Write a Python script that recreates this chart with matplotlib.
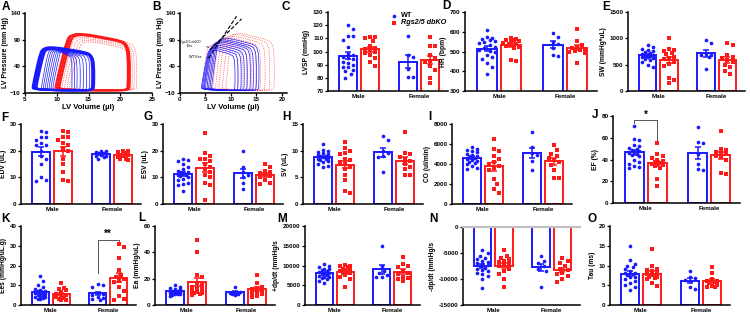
import numpy as np
import matplotlib
matplotlib.use("Agg")
import matplotlib.pyplot as plt
from matplotlib.path import Path
from matplotlib.patches import PathPatch

plt.rcParams['font.family'] = ['Liberation Sans', 'DejaVu Sans']
plt.rcParams['font.weight'] = 'bold'
plt.rcParams['axes.labelweight'] = 'bold'

BLUE = '#1a1aff'
RED = '#ff1a1a'
FW, FH = 750, 315

# ---------------- PV loop parameters (end-systolic volume, end-diastolic volume, peak pressure) ----------------
a_blue_thick_esv = [7.4, 7.6, 7.8, 8.0]
a_blue_thick_edv = [15.6, 15.7, 15.8, 15.9]
a_blue_thick_peak = [74, 76, 75, 73]
a_blue_thin_esv = [8.6, 8.9, 9.2, 9.5, 9.8, 10.1, 10.4]
a_blue_thin_edv = [15.2, 14.7, 14.2, 13.7, 13.2, 12.8, 12.4]
a_blue_thin_peak = [72, 71, 70, 69, 68, 67, 66]
a_red_thick_esv = [11.6, 11.9, 12.2]
a_red_thick_edv = [21.2, 21.4, 21.5]
a_red_thick_peak = [100, 101, 99]
a_red_dot_esv = [12.0, 12.4, 12.8, 13.2, 13.6]
a_red_dot_edv = [22.6, 22.2, 21.9, 21.6, 21.3]
a_red_dot_peak = [98, 95, 92, 89, 86]

b_blue_esv = [7.4, 7.1, 6.8, 6.5, 6.2, 6.0, 5.8, 5.6, 5.4]
b_blue_edv = [15.5, 15.0, 14.4, 13.8, 13.2, 12.6, 12.0, 11.4, 10.8]
b_blue_peak = [93, 90, 88, 86, 83, 80, 77, 74, 71]
b_red_esv = [10.0, 9.3, 8.6, 8.0, 7.4, 6.8, 6.3, 5.8, 5.3]
b_red_edv = [18.5, 17.6, 16.7, 15.8, 14.9, 14.0, 13.1, 12.2, 11.3]
b_red_peak = [102, 100, 97, 94, 91, 88, 85, 82, 79]
espvr_ko_v = [5.6, 11.1]
espvr_ko_p = [55, 134]
espvr_wt_v = [5.9, 12.1]
espvr_wt_p = [71, 129]

# ---------------- bar + scatter data: WT male, KO male, WT female, KO female ----------------
lvsp_wt_m = [120, 117, 112, 112, 109, 103.5, 98, 97, 96, 95, 94, 92, 91, 90, 88, 88, 86, 85, 83, 80]
lvsp_ko_m = [111, 111, 110, 108, 104, 103, 102, 101, 100, 99, 97, 95, 92, 89]
lvsp_wt_f = [112, 97, 96, 87, 81, 81]
lvsp_ko_f = [111, 104, 104, 97, 95, 93, 92, 89, 86, 80, 76]

hr_wt_m = [610, 575, 570, 565, 560, 555, 550, 545, 535, 525, 520, 510, 505, 495, 480, 470, 460, 440, 420, 385]
hr_ko_m = [570, 565, 560, 560, 555, 550, 545, 540, 540, 535, 530, 525, 520, 455, 450]
hr_wt_f = [595, 575, 550, 540, 520, 480, 475]
hr_ko_f = [615, 555, 535, 525, 520, 515, 510, 505, 500, 490, 440]

sw_wt_m = [870, 840, 800, 780, 760, 740, 720, 700, 690, 680, 670, 660, 650, 640, 620, 600, 580, 560, 500, 460]
sw_ko_m = [1000, 790, 780, 760, 720, 700, 650, 620, 600, 560, 520, 480, 250, 200, 150]
sw_wt_f = [970, 920, 700, 690, 680, 650, 420]
sw_ko_f = [910, 880, 680, 650, 620, 590, 560, 500, 450, 380, 330]

edv_wt_m = [27.5, 27, 25, 25, 24, 23, 22, 22, 20, 18, 17, 15, 10, 9, 8.5]
edv_ko_m = [27.5, 27, 25, 25, 24, 23, 22, 21, 20, 17, 15, 12, 9, 8.5]
edv_wt_f = [20, 20, 19.5, 19, 19, 18.5, 18, 18, 17.5, 17]
edv_ko_f = [20, 19.8, 19.5, 19, 18.5, 18.2, 18, 17.5, 17, 16.8, 16.5]

esv_wt_m = [17, 16.5, 16, 15, 14, 13, 12.5, 12, 12, 11.5, 11, 11, 10.5, 10, 9.5, 9, 8, 7.5, 7, 5]
esv_ko_m = [26.5, 19, 18, 17, 17, 16, 15, 14, 13, 12, 11, 10, 8, 7, 1.5]
esv_wt_f = [20, 14, 12, 11, 10, 8, 5.5]
esv_ko_f = [15, 14, 12.5, 12, 11.5, 11, 10.5, 10, 9, 8, 7.5]

sv_wt_m = [11.2, 10.2, 10, 9.8, 9.5, 9.3, 9.2, 9, 9, 8.8, 8.7, 8.5, 8.4, 8.2, 8, 7.8, 7.5, 7.2, 7]
sv_ko_m = [11.7, 10.5, 10, 9.5, 9.3, 8.5, 8.2, 7.8, 7.5, 7, 6.5, 5.5, 4.5, 2.5, 2]
sv_wt_f = [12.7, 12, 10, 9.5, 9, 8.8, 6]
sv_ko_f = [13.5, 9.5, 9.3, 8.8, 8.5, 8, 7.5, 7, 6.5, 5.5, 5.5]

co_wt_m = [5700, 5500, 5400, 5300, 5200, 5000, 4900, 4800, 4700, 4600, 4500, 4400, 4300, 4200, 4100, 4000, 3800, 3600, 3500]
co_ko_m = [6500, 5500, 5300, 4800, 4500, 4200, 4000, 3800, 3600, 3400, 2500, 2000, 1500, 1100]
co_wt_f = [7200, 5700, 5100, 4900, 4300, 3400]
co_ko_f = [5900, 5400, 5000, 4800, 4600, 4400, 4200, 3900, 3400, 2600, 2600]

ef_wt_m = [71, 59, 58, 53, 52, 51, 50, 49, 48, 47, 46, 45, 44, 43, 40, 38, 36, 34, 33, 32]
ef_ko_m = [55, 45, 43, 41, 40, 39, 38, 37, 36, 36, 35, 34, 32, 22, 16]
ef_wt_f = [70, 56, 55, 45, 36, 31, 30]
ef_ko_f = [66, 50, 49, 47, 46, 45, 43, 42, 40, 28, 27]

ees_wt_m = [14.5, 12, 10, 9, 8, 7.5, 7, 7, 6.5, 6, 6, 5.5, 5, 5, 4.5, 4, 4, 3.5, 3, 3]
ees_ko_m = [11, 8.5, 8, 7.5, 6.5, 5.5, 5, 4.5, 4, 3.5, 3, 2.5, 2.5]
ees_wt_f = [10.5, 10, 9, 6, 5.5, 5, 4, 3.5, 3, 2.5]
ees_ko_f = [31, 29.5, 24, 17.5, 15, 14, 13, 12, 11.5, 9, 7, 4.5, 3, 2.5]

ea_wt_m = [15, 14, 13, 12, 12, 11, 11, 10.5, 10, 10, 9.5, 9, 9, 8.5, 8, 8, 7.5, 7]
ea_ko_m = [49.5, 40, 23, 21, 17, 15, 14, 13, 12, 11, 10, 9, 9, 8, 7.5]
ea_wt_f = [14, 10, 9.5, 9, 8.5, 8, 7.5]
ea_ko_f = [23, 17, 14, 13, 12, 11, 10, 9, 8, 7, 6]

dpmax_wt_m = [10500, 10000, 9500, 9200, 9000, 8800, 8600, 8400, 8200, 8000, 7800, 7600, 7400, 7200, 7000, 6800, 6500, 6000, 5500]
dpmax_ko_m = [10200, 10000, 9800, 9500, 9200, 9000, 8800, 8600, 8400, 8200, 8000, 7500, 7000, 6500, 4500]
dpmax_wt_f = [15000, 9800, 8500, 8000, 7500, 7200, 7000]
dpmax_ko_f = [12200, 10300, 10000, 9500, 8500, 8000, 7800, 7200, 6800, 6500, 6000]

dpmin_wt_m = [-4500, -5000, -5500, -6000, -6200, -6500, -6800, -7000, -7200, -7400, -7500, -7800, -8000, -8200, -8500, -8800, -9000, -9500, -10000, -11800]
dpmin_ko_m = [-4500, -5500, -6000, -6200, -6500, -6800, -7000, -7200, -7500, -8000, -8500, -9000, -10000, -11500]
dpmin_wt_f = [-5500, -6500, -7000, -7500, -8000, -8500, -11500]
dpmin_ko_f = [-6000, -6500, -7000, -7500, -8000, -8300, -8800, -9000, -9500, -10000, -10500]

tau_wt_m = [15, 11.3, 10.5, 10, 9.5, 9, 8.5, 8.2, 8, 7.8, 7.5, 7.2, 7, 6.5, 6, 5.5, 5, 4.5, 3.8]
tau_ko_m = [14.2, 9.8, 9.2, 8.8, 8.5, 8, 7.8, 7.5, 7.2, 7, 6.8, 6.5, 5.5, 4.8]
tau_wt_f = [8.6, 7.2, 6.8, 6.3, 6, 4.5, 4]
tau_ko_f = [9.5, 8, 6.5, 6.2, 6, 5.8, 5.5, 5, 4.8, 4.5, 4.5]

group_names = ['Male', 'Female']
legend_labels = ['WT', 'Rgs2/5 dbKO']


def add_ax(l, t, r, b):
    return fig.add_axes([l / FW, 1 - b / FH, (r - l) / FW, (b - t) / FH])


def letter(x, y, s):
    fig.text(x / FW, 1 - y / FH, s, fontsize=8.5, fontweight='bold', va='top', ha='left')


def style(ax):
    for s in ['top', 'right']:
        ax.spines[s].set_visible(False)
    for s in ['left', 'bottom']:
        ax.spines[s].set_linewidth(1.1)
    ax.tick_params(labelsize=4.5, width=0.9, length=2.2, pad=1)
    for t in ax.get_xticklabels() + ax.get_yticklabels():
        t.set_fontweight('bold')


def swarm(vals, x0, xs, ys, half, d=5.2):
    # simple deterministic beeswarm: place each point at the nearest free offset
    vals = np.asarray(vals, float)
    placed, out = [], np.zeros(len(vals))
    step = d * 0.5 / xs
    cands = [0.0]
    k = 1
    while k * step <= half:
        cands += [k * step, -k * step]
        k += 1
    for i in np.argsort(-vals):
        y = vals[i] * ys
        best, bestd = 0.0, -1.0
        for c in cands:
            md = min([np.hypot(c * xs - qx, y - qy) for qx, qy in placed], default=1e9)
            if md >= d:
                best = c
                break
            if md > bestd:
                best, bestd = c, md
        placed.append((best * xs, y))
        out[i] = x0 + best
    return out


XPOS = [1.0, 2.1, 4.0, 5.1]


def bar_panel(box, groups, ylim, yticks, ylabel):
    ax = add_ax(*box)
    l, t, r, b = box
    xs = (r - l) / 6.0
    ys = (b - t) / (ylim[1] - ylim[0])
    for j, vals in enumerate(groups):
        col = BLUE if j % 2 == 0 else RED
        mk = 'o' if j % 2 == 0 else 's'
        v = np.asarray(vals, float)
        m = v.mean()
        sem = v.std(ddof=1) / np.sqrt(len(v))
        ax.bar(XPOS[j], m, 0.9, fill=False, edgecolor=col, linewidth=1.4, zorder=2)
        px = swarm(v, XPOS[j], xs, ys, 0.36)
        ax.scatter(px, v, s=7, marker=mk, color=col, linewidths=0, zorder=3, clip_on=False)
        ax.errorbar(XPOS[j], m, yerr=sem, color=col, capsize=2.4, elinewidth=1.1,
                    capthick=1.1, zorder=4)
    ax.set_xlim(0, 6)
    ax.set_ylim(*ylim)
    ax.set_yticks(yticks)
    ax.set_yticklabels([str(y) for y in yticks])
    ax.set_xticks([1.55, 4.55])
    ax.set_xticklabels(group_names)
    ax.set_ylabel(ylabel, fontsize=4.8, labelpad=2)
    style(ax)
    ax.tick_params(axis='x', length=0, pad=2.5)
    return ax


def loop_path(esv, edv, peak, ped=-4.0, slant=-1.0):
    # esv = volume at the top-left (end-systolic) corner, slant shifts the bottom-left corner
    sv = edv - esv
    pts = [
        (esv + slant, ped + 1), (esv + 0.3 * sv, ped - 1), (edv - 0.15 * sv, ped - 1),
        (edv - 0.02 * sv, ped), (edv, ped + 6), (edv, 0.62 * peak),
        (edv - 0.04 * sv, 0.8 * peak), (edv - 0.12 * sv, 0.87 * peak),
        (edv - 0.45 * sv, 0.94 * peak), (esv + 0.25 * sv, peak),
        (esv + 0.06 * sv, 0.99 * peak), (esv, 0.9 * peak), (esv + slant * 0.6, 0.4 * peak),
        (esv + slant, ped + 6),
    ]
    n = len(pts)
    mids = [((pts[i][0] + pts[(i + 1) % n][0]) / 2, (pts[i][1] + pts[(i + 1) % n][1]) / 2)
            for i in range(n)]
    verts, codes = [mids[-1]], [Path.MOVETO]
    for i in range(n):
        verts += [pts[i], mids[i]]
        codes += [Path.CURVE3, Path.CURVE3]
    return Path(verts, codes)


def draw_loops(ax, esvs, edvs, peaks, color, lw, ls='-', slant=-1.0):
    for e1, e2, pk in zip(esvs, edvs, peaks):
        ax.add_patch(PathPatch(loop_path(e1, e2, pk, slant=slant), fill=False,
                               edgecolor=color, lw=lw, ls=ls))


def pv_axes(ax, xlim, xticks):
    ax.set_xlim(*xlim)
    ax.set_ylim(-10, 140)
    ax.set_xticks(xticks)
    ax.set_yticks([-10, 40, 90, 140])
    ax.set_xlabel('LV Volume (µl)', fontsize=5.5, labelpad=1)
    ax.set_ylabel('LV Pressure (mm Hg)', fontsize=5, labelpad=1)
    style(ax)


fig = plt.figure(figsize=(FW / 100, FH / 100), dpi=100)

# ---------------- A ----------------
axA = add_ax(25, 13, 152, 93)
draw_loops(axA, a_red_dot_esv, a_red_dot_edv, a_red_dot_peak, RED, 0.5, ':', slant=-1.6)
draw_loops(axA, a_red_thick_esv, a_red_thick_edv, a_red_thick_peak, RED, 1.5, slant=-1.8)
draw_loops(axA, a_blue_thin_esv, a_blue_thin_edv, a_blue_thin_peak, BLUE, 0.5, slant=-1.0)
draw_loops(axA, a_blue_thick_esv, a_blue_thick_edv, a_blue_thick_peak, BLUE, 1.5, slant=-1.2)
pv_axes(axA, (5, 25), [5, 10, 15, 20, 25])

# ---------------- B ----------------
axB = add_ax(180, 13, 287, 93)
draw_loops(axB, b_red_esv, b_red_edv, b_red_peak, RED, 0.5, ':', slant=-1.0)
draw_loops(axB, b_blue_esv, b_blue_edv, b_blue_peak, BLUE, 0.5, slant=-1.2)
axB.plot(espvr_ko_v, espvr_ko_p, color='black', lw=0.8, ls='--')
axB.plot(espvr_wt_v, espvr_wt_p, color='black', lw=0.8, ls='--')
axB.annotate('Rgs2/5 dbKO\nEes', xy=(espvr_wt_v[0] + 0.3, espvr_wt_p[0] + 4), xytext=(2.0, 82),
             fontsize=2.6, ha='center', va='center', fontweight='normal',
             arrowprops=dict(arrowstyle='-', color='black', lw=0.5))
axB.annotate('WT Ees', xy=(espvr_ko_v[0] + 0.2, espvr_ko_p[0] + 2), xytext=(3.0, 57),
             fontsize=2.6, ha='center', va='center', fontweight='normal',
             arrowprops=dict(arrowstyle='-', color='black', lw=0.5))
pv_axes(axB, (0, 21), [0, 5, 10, 15, 20])

# ---------------- bar panels ----------------
axC = bar_panel((328, 12, 448, 91), [lvsp_wt_m, lvsp_ko_m, lvsp_wt_f, lvsp_ko_f],
                (70, 130), list(range(70, 131, 10)), 'LVSP (mmHg)')
axC.scatter([3.3], [127], s=7, marker='o', color=BLUE, linewidths=0, clip_on=False)
axC.scatter([3.3], [122], s=7, marker='s', color=RED, linewidths=0, clip_on=False)
axC.text(3.65, 127, legend_labels[0], fontsize=5.2, va='center')
axC.text(3.65, 122, legend_labels[1], fontsize=5.2, va='center', style='italic')

bar_panel((465, 12, 597, 91), [hr_wt_m, hr_ko_m, hr_wt_f, hr_ko_f],
          (300, 700), list(range(300, 701, 100)), 'HR (bpm)')
bar_panel((628, 12, 745, 91), [sw_wt_m, sw_ko_m, sw_wt_f, sw_ko_f],
          (0, 1500), [0, 500, 1000, 1500], 'SW (mmHg*uL)')
bar_panel((21, 124, 141, 204), [edv_wt_m, edv_ko_m, edv_wt_f, edv_ko_f],
          (0, 30), [0, 10, 20, 30], 'EDV (uL)')
bar_panel((163, 124, 283, 204), [esv_wt_m, esv_ko_m, esv_wt_f, esv_ko_f],
          (0, 30), [0, 10, 20, 30], 'ESV (uL)')
bar_panel((303, 124, 423, 204), [sv_wt_m, sv_ko_m, sv_wt_f, sv_ko_f],
          (0, 15), [0, 5, 10, 15], 'SV (uL)')
bar_panel((452, 124, 572, 204), [co_wt_m, co_ko_m, co_wt_f, co_ko_f],
          (0, 8000), [0, 2000, 4000, 6000, 8000], 'CO (ul/min)')
axJ = bar_panel((613, 116, 740, 203), [ef_wt_m, ef_ko_m, ef_wt_f, ef_ko_f],
                (0, 80), [0, 20, 40, 60, 80], 'EF (%)')
axJ.plot([XPOS[0], XPOS[0], XPOS[1], XPOS[1]], [74, 76, 76, 58], color='#555555', lw=0.7, clip_on=False)
axJ.text((XPOS[0] + XPOS[1]) / 2, 76.5, '*', ha='center', va='bottom', fontsize=7)

axK = bar_panel((21, 226, 136, 305), [ees_wt_m, ees_ko_m, ees_wt_f, ees_ko_f],
                (0, 40), [0, 10, 20, 30, 40], 'Ees (mmHg/uL.g)')
axK.plot([XPOS[2], XPOS[2], XPOS[3], XPOS[3]], [16, 33, 33, 31.5], color='#555555', lw=0.7)
axK.text((XPOS[2] + XPOS[3]) / 2, 33.3, '**', ha='center', va='bottom', fontsize=7)

bar_panel((155, 226, 275, 305), [ea_wt_m, ea_ko_m, ea_wt_f, ea_ko_f],
          (0, 60), [0, 20, 40, 60], 'Ea (mmHg/uL)')
bar_panel((305, 226, 420, 305), [dpmax_wt_m, dpmax_ko_m, dpmax_wt_f, dpmax_ko_f],
          (0, 20000), [0, 5000, 10000, 15000, 20000], '+dp/dt (mmHg/s')
axN = bar_panel((463, 227, 580, 305), [dpmin_wt_m, dpmin_ko_m, dpmin_wt_f, dpmin_ko_f],
                (-15000, 0), [-15000, -10000, -5000, 0], '-dp/dt (mmHg/s')
axN.axhline(0, color='#c0c0c0', lw=1.6, zorder=5, clip_on=False)
bar_panel((610, 226, 730, 305), [tau_wt_m, tau_ko_m, tau_wt_f, tau_ko_f],
          (0, 20), [0, 5, 10, 15, 20], 'Tau (ms)')

for x, y, s in [(2, 1, 'A'), (152, 1, 'B'), (281, 1, 'C'), (442, 0, 'D'), (602, 1, 'E'),
                (1, 112, 'F'), (143, 111, 'G'), (282, 111, 'H'), (428, 111, 'I'), (592, 109, 'J'),
                (1, 213, 'K'), (138, 212, 'L'), (277, 213, 'M'), (429, 213, 'N'), (587, 213, 'O')]:
    letter(x, y, s)

fig.savefig('out.png', dpi=100)
